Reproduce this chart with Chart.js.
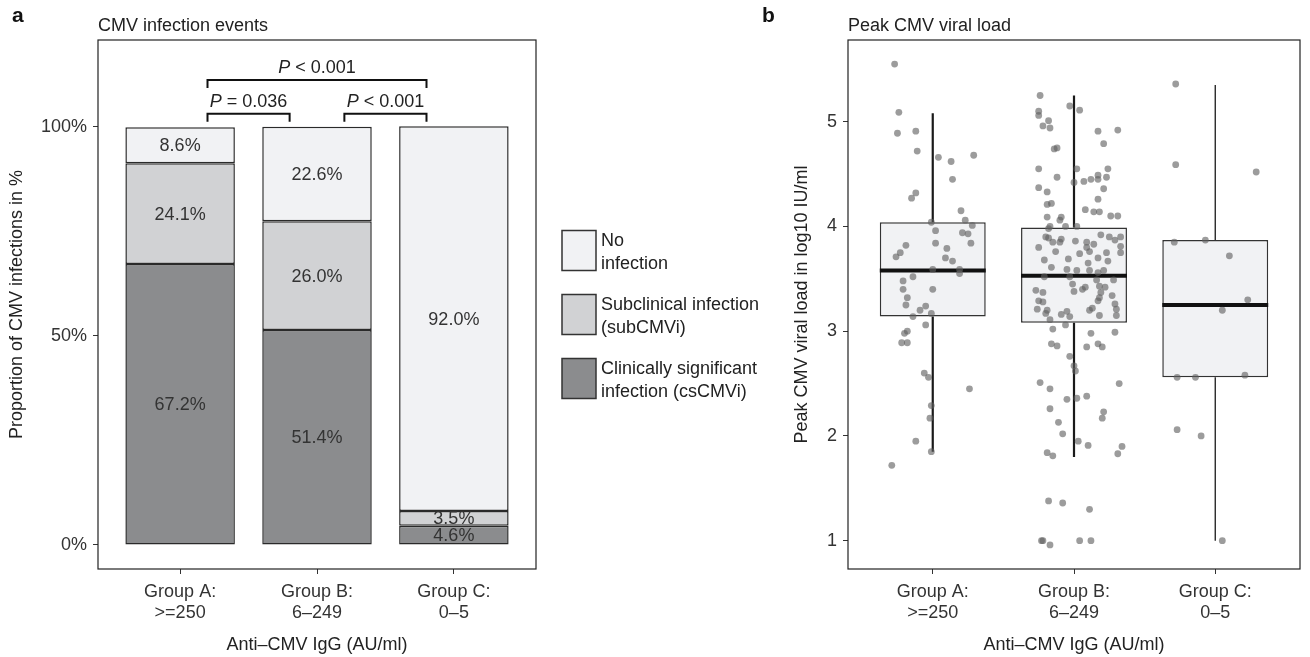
<!DOCTYPE html>
<html>
<head>
<meta charset="utf-8">
<script src="https://cdn.jsdelivr.net/npm/chart.js@4.4.1/dist/chart.umd.min.js"></script>
<style>
  html, body { margin: 0; padding: 0; background: #fff; }
  #wrap { position: relative; width: 1310px; height: 657px; }
  canvas { position: absolute; top: 0; }
  #panelA { left: 0; }
  #panelB { left: 760px; }
</style>
</head>
<body>
<div id="wrap">
  <canvas id="panelA" width="760" height="657"></canvas>
  <canvas id="panelB" width="550" height="657"></canvas>
</div>
<script>
// categories (group positions on the x axis)
const groups = [1, 2, 3];
const groupLabels = [["Group A:", ">=250"], ["Group B:", "6–249"], ["Group C:", "0–5"]];

// panel a: share of patients in each group (%), bottom to top
const csCMVi = [67.2, 51.4, 4.6];
const subCMVi = [24.1, 26.0, 3.5];
const noInfection = [8.6, 22.6, 92.0];
const seriesNames = [["Clinically significant", "infection (csCMVi)"], ["Subclinical infection", "(subCMVi)"], ["No", "infection"]];
const pctTicks = [0, 50, 100];
const comparisons = [
  { pair: [1, 2], op: "=", p: "0.036" },
  { pair: [2, 3], op: "<", p: "0.001" },
  { pair: [1, 3], op: "<", p: "0.001" },
];

// panel b: peak viral load (log10 IU/ml) per patient, jitter = offset from group centre
const loadA = [5.55, 5.09, 4.89, 4.91, 4.72, 4.66, 4.62, 4.68, 4.45, 4.32,
  4.27, 4.15, 4.04, 4.06, 4.01, 3.96, 3.94, 3.93, 3.84, 3.84,
  3.82, 3.79, 3.75, 3.71, 3.70, 3.67, 3.59, 3.59, 3.55, 3.52,
  3.48, 3.40, 3.40, 3.32, 3.25, 3.20, 3.24, 3.17, 3.14, 3.06,
  3.00, 2.98, 2.89, 2.89, 2.60, 2.56, 2.45, 2.29, 2.17, 1.95,
  1.85, 1.72];
const jitterA = [-0.27, -0.24, -0.25, -0.12, -0.11, 0.04, 0.13, 0.29, 0.14, -0.12,
  -0.15, 0.20, -0.01, 0.23, 0.28, 0.02, 0.21, 0.25, 0.27, 0.02,
  -0.19, 0.10, -0.23, -0.26, 0.09, 0.14, 0.00, 0.19, 0.19, -0.14,
  -0.21, -0.21, 0.00, -0.18, -0.19, -0.09, -0.05, -0.01, -0.14, -0.05,
  -0.18, -0.20, -0.22, -0.18, -0.06, -0.03, 0.26, -0.01, -0.02, -0.12,
  -0.01, -0.29];
const loadB = [5.25, 5.15, 5.11, 5.10, 5.06, 5.01, 4.96, 4.94, 4.91, 4.92,
  4.79, 4.74, 4.75, 4.55, 4.55, 4.55, 4.47, 4.49, 4.45, 4.45,
  4.47, 4.42, 4.43, 4.37, 4.33, 4.36, 4.26, 4.21, 4.22, 4.16,
  4.14, 4.14, 4.10, 4.10, 4.09, 4.09, 4.06, 4.00, 3.98, 4.00,
  4.00, 3.92, 3.90, 3.87, 3.90, 3.90, 3.89, 3.85, 3.85, 3.88,
  3.86, 3.85, 3.83, 3.80, 3.80, 3.76, 3.81, 3.75, 3.75, 3.76,
  3.74, 3.68, 3.69, 3.65, 3.70, 3.67, 3.61, 3.59, 3.58, 3.58,
  3.56, 3.58, 3.52, 3.52, 3.49, 3.49, 3.45, 3.42, 3.40, 3.43,
  3.42, 3.39, 3.37, 3.38, 3.37, 3.32, 3.34, 3.29, 3.28, 3.29,
  3.21, 3.20, 3.26, 3.21, 3.22, 3.20, 3.19, 3.17, 3.16, 3.14,
  3.15, 3.15, 3.11, 3.06, 3.02, 2.98, 2.99, 2.88, 2.86, 2.85,
  2.88, 2.85, 2.76, 2.67, 2.62, 2.51, 2.50, 2.45, 2.35, 2.36,
  2.38, 2.26, 2.23, 2.17, 2.13, 2.02, 1.95, 1.91, 1.90, 1.84,
  1.81, 1.83, 1.38, 1.36, 1.30, 1.00, 1.00, 0.96, 1.00, 1.00];
const jitterB = [-0.24, -0.03, 0.04, -0.25, -0.25, -0.18, -0.22, -0.17, 0.17, 0.31,
  0.21, -0.14, -0.12, -0.25, 0.02, 0.24, -0.12, 0.17, 0.17, 0.12,
  0.23, 0.00, 0.07, -0.25, -0.19, 0.21, 0.17, -0.19, -0.16, 0.08,
  0.14, 0.18, 0.26, 0.31, -0.19, -0.09, -0.10, -0.17, -0.18, -0.06,
  0.02, 0.19, 0.25, 0.29, 0.33, -0.20, -0.18, -0.15, -0.10, -0.09,
  0.01, 0.09, 0.14, -0.25, 0.09, 0.11, 0.33, 0.33, 0.23, -0.13,
  0.04, -0.21, -0.04, 0.10, 0.17, 0.24, -0.16, -0.05, 0.02, 0.11,
  0.17, 0.21, -0.21, -0.03, 0.16, 0.28, -0.01, 0.08, 0.06, 0.18,
  0.22, -0.27, -0.22, 0.00, 0.19, 0.18, 0.27, -0.25, -0.22, 0.17,
  -0.26, -0.19, 0.29, 0.30, 0.13, 0.11, -0.05, -0.20, -0.09, -0.03,
  0.18, 0.30, -0.17, -0.06, -0.15, 0.12, 0.29, -0.16, -0.12, 0.09,
  0.17, 0.20, -0.03, 0.00, 0.01, -0.24, 0.32, -0.17, -0.05, 0.02,
  0.09, -0.17, 0.21, 0.20, -0.11, -0.08, 0.03, 0.10, 0.34, -0.19,
  -0.15, 0.31, -0.18, -0.08, 0.11, -0.23, -0.22, -0.17, 0.04, 0.12];
const loadC = [5.36, 4.59, 4.52, 3.85, 3.87, 3.72, 3.30, 3.20, 2.56, 2.56, 2.58, 2.06, 2.00, 1.00];
const jitterC = [-0.28, -0.28, 0.29, -0.29, -0.07, 0.10, 0.23, 0.05, -0.27, -0.14, 0.21, -0.27, -0.10, 0.05];

const boxQ1 = [3.14, 3.08, 2.56];
const boxMedian = [3.58, 3.53, 3.25];
const boxQ3 = [4.04, 3.99, 3.87];
const whiskerLow = [1.85, 1.80, 1.00];
const whiskerHigh = [5.08, 5.25, 5.35];
const loadTicks = [1, 2, 3, 4, 5];

//////////////////////////////////////////////////////////////////////////////
// shared look
const FONT = '"Liberation Sans", Arial, Helvetica, sans-serif';
Chart.defaults.font.family = FONT;
Chart.defaults.font.size = 18;
Chart.defaults.color = '#333';

const tickGrid = { display: true, offset: false, drawOnChartArea: false, drawTicks: true, tickLength: 5, color: '#333', lineWidth: 1 };
const setTicks = list => scale => { scale.ticks = list.map(v => ({ value: v })); };

function drawFrame(chart) {
  const { ctx, chartArea: a } = chart;
  ctx.save();
  ctx.strokeStyle = '#222';
  ctx.lineWidth = 1.2;
  ctx.strokeRect(a.left, a.top, a.right - a.left, a.bottom - a.top);
  ctx.restore();
}

function drawHeading(chart, letter, title) {
  const { ctx, chartArea: a } = chart;
  ctx.save();
  ctx.fillStyle = '#111';
  ctx.textAlign = 'left';
  ctx.textBaseline = 'alphabetic';
  ctx.font = 'bold 21px ' + FONT;
  ctx.fillText(letter, a.left - 86, 22);
  ctx.font = '18px ' + FONT;
  ctx.fillStyle = '#222';
  ctx.fillText(title, a.left, 31);
  ctx.restore();
}

//////////////////////////////////////////////////////////////////////////////
// a: stacked bars
const fills = ['#8b8c8e', '#d1d2d4', '#f1f2f4'];
const series = [csCMVi, subCMVi, noInfection];

const panelADecor = {
  id: 'panelADecor',
  afterDatasetsDraw(chart) {
    const { ctx } = chart;
    ctx.save();
    ctx.fillStyle = '#333';
    ctx.font = '18px ' + FONT;
    ctx.textAlign = 'center';
    ctx.textBaseline = 'middle';
    chart.data.datasets.forEach((ds, d) => {
      chart.getDatasetMeta(d).data.forEach((bar, i) => {
        const { x, y, base } = bar.getProps(['x', 'y', 'base'], true);
        ctx.fillText(series[d][i].toFixed(1) + '%', x, (y + base) / 2 + 1);
      });
    });
    ctx.restore();
  },
  afterDraw(chart) {
    const { ctx, chartArea: a, scales: { x, y } } = chart;
    drawFrame(chart);
    drawHeading(chart, 'a', 'CMV infection events');

    // significance brackets
    ctx.save();
    ctx.strokeStyle = '#111';
    ctx.fillStyle = '#222';
    ctx.lineWidth = 2;
    comparisons.forEach(c => {
      const span = c.pair[1] - c.pair[0];
      const level = span > 1 ? 111.2 : 103.1;
      const x0 = x.getPixelForValue(c.pair[0] + 0.2);
      const x1 = x.getPixelForValue(c.pair[1] - 0.2);
      const yy = y.getPixelForValue(level);
      ctx.beginPath();
      ctx.moveTo(x0, yy + 8);
      ctx.lineTo(x0, yy);
      ctx.lineTo(x1, yy);
      ctx.lineTo(x1, yy + 8);
      ctx.stroke();

      const italic = 'italic 18px ' + FONT, plain = '18px ' + FONT;
      const rest = ' ' + c.op + ' ' + c.p;
      ctx.font = italic;
      const wP = ctx.measureText('P').width;
      ctx.font = plain;
      const wR = ctx.measureText(rest).width;
      const sx = (x0 + x1) / 2 - (wP + wR) / 2;
      ctx.textAlign = 'left';
      ctx.textBaseline = 'alphabetic';
      ctx.font = italic;
      ctx.fillText('P', sx, yy - 7);
      ctx.font = plain;
      ctx.fillText(rest, sx + wP, yy - 7);
    });
    ctx.restore();

    // legend, top entry = last dataset
    ctx.save();
    const keyW = 34, keyH = 40, gap = 24;
    const lx = a.right + 26;
    let ky = (a.top + a.bottom) / 2 - (3 * keyH + 2 * gap) / 2 + 10;
    ctx.font = '18px ' + FONT;
    ctx.textAlign = 'left';
    ctx.textBaseline = 'alphabetic';
    for (let d = chart.data.datasets.length - 1; d >= 0; d--) {
      const ds = chart.data.datasets[d];
      ctx.fillStyle = ds.backgroundColor;
      ctx.fillRect(lx, ky, keyW, keyH);
      ctx.strokeStyle = '#333';
      ctx.lineWidth = 1.5;
      ctx.strokeRect(lx, ky, keyW, keyH);
      ctx.fillStyle = '#222';
      seriesNames[d].forEach((line, k) => ctx.fillText(line, lx + keyW + 5, ky + 15 + k * 23));
      ky += keyH + gap;
    }
    ctx.restore();
  }
};

new Chart(document.getElementById('panelA'), {
  type: 'bar',
  data: {
    datasets: series.map((vals, d) => ({
      label: seriesNames[d].join(' '),
      data: vals.map((v, i) => ({ x: groups[i], y: v })),
      backgroundColor: fills[d],
      borderColor: '#2a2a2a',
      borderWidth: 1.5,
      borderSkipped: false,
      barPercentage: 0.8,
      categoryPercentage: 1,
    })),
  },
  options: {
    responsive: false,
    animation: false,
    layout: { padding: { top: 40, right: 224, left: 0, bottom: 0 } },
    plugins: { legend: { display: false }, tooltip: { enabled: false } },
    scales: {
      x: {
        type: 'linear', stacked: true, min: 0.4, max: 3.6, offset: false,
        afterBuildTicks: setTicks(groups),
        afterFit: s => { s.height = 88; },
        ticks: { callback: v => groupLabels[v - 1], padding: 7, color: '#333' },
        grid: tickGrid,
        border: { display: false },
        title: { display: true, text: 'Anti–CMV IgG (AU/ml)', color: '#222', padding: { top: 0, bottom: 1 } },
      },
      y: {
        stacked: true, min: -5.75, max: 120.75,
        afterBuildTicks: setTicks(pctTicks),
        afterFit: s => { s.width = 98; },
        ticks: { callback: v => v + '%', padding: 6, color: '#333' },
        grid: tickGrid,
        border: { display: false },
        title: { display: true, text: 'Proportion of CMV infections in %', color: '#222', padding: { top: 6, bottom: 0 } },
      },
    },
  },
  plugins: [panelADecor],
});

//////////////////////////////////////////////////////////////////////////////
// b: box plot with jittered points
const whiskerWidths = [2.2, 2.2, 1.3];

const panelBDecor = {
  id: 'panelBDecor',
  beforeDatasetsDraw(chart) {
    const { ctx, scales: { x, y } } = chart;
    ctx.save();
    ctx.strokeStyle = '#1a1a1a';
    groups.forEach((g, i) => {
      const px = x.getPixelForValue(g);
      ctx.lineWidth = whiskerWidths[i];
      ctx.beginPath();
      ctx.moveTo(px, y.getPixelForValue(whiskerHigh[i]));
      ctx.lineTo(px, y.getPixelForValue(boxQ3[i]));
      ctx.moveTo(px, y.getPixelForValue(boxQ1[i]));
      ctx.lineTo(px, y.getPixelForValue(whiskerLow[i]));
      ctx.stroke();
    });
    ctx.restore();
  },
  afterDatasetDraw(chart, args) {
    if (args.index !== 0) return;
    const { ctx, scales: { y } } = chart;
    ctx.save();
    ctx.strokeStyle = '#111';
    ctx.lineWidth = 4;
    args.meta.data.forEach((box, i) => {
      const { x, width } = box.getProps(['x', 'width'], true);
      const py = y.getPixelForValue(boxMedian[i]);
      ctx.beginPath();
      ctx.moveTo(x - width / 2, py);
      ctx.lineTo(x + width / 2, py);
      ctx.stroke();
    });
    ctx.restore();
  },
  afterDraw(chart) {
    drawFrame(chart);
    drawHeading(chart, 'b', 'Peak CMV viral load');
  }
};

const jittered = (loads, jit, g) => loads.map((v, i) => ({ x: g + jit[i], y: v }));

new Chart(document.getElementById('panelB'), {
  type: 'bar',
  data: {
    datasets: [
      {
        label: 'IQR',
        data: groups.map((g, i) => ({ x: g, y: [boxQ1[i], boxQ3[i]] })),
        backgroundColor: '#f1f2f4',
        borderColor: '#333',
        borderWidth: 1.5,
        borderSkipped: false,
        barPercentage: 0.75,
        categoryPercentage: 1,
        order: 2,
      },
      {
        type: 'scatter',
        label: 'Patients',
        data: [
          ...jittered(loadA, jitterA, groups[0]),
          ...jittered(loadB, jitterB, groups[1]),
          ...jittered(loadC, jitterC, groups[2]),
        ],
        showLine: false,
        pointRadius: 3.4,
        pointBorderWidth: 0,
        pointBackgroundColor: 'rgba(95, 95, 95, 0.62)',
        order: 1,
      },
    ],
  },
  options: {
    responsive: false,
    animation: false,
    layout: { padding: { top: 40, right: 10, left: 0, bottom: 0 } },
    plugins: { legend: { display: false }, tooltip: { enabled: false } },
    scales: {
      x: {
        type: 'linear', min: 0.4, max: 3.6, offset: false,
        afterBuildTicks: setTicks(groups),
        afterFit: s => { s.height = 88; },
        ticks: { callback: v => groupLabels[v - 1], padding: 7, color: '#333' },
        grid: tickGrid,
        border: { display: false },
        title: { display: true, text: 'Anti–CMV IgG (AU/ml)', color: '#222', padding: { top: 0, bottom: 1 } },
      },
      y: {
        type: 'linear', min: 0.73, max: 5.78,
        afterBuildTicks: setTicks(loadTicks),
        afterFit: s => { s.width = 88; },
        ticks: { padding: 6, color: '#333' },
        grid: tickGrid,
        border: { display: false },
        title: { display: true, text: 'Peak CMV viral load in log10 IU/ml', color: '#222', padding: { top: 31, bottom: 0 } },
      },
    },
  },
  plugins: [panelBDecor],
});
</script>
</body>
</html>
